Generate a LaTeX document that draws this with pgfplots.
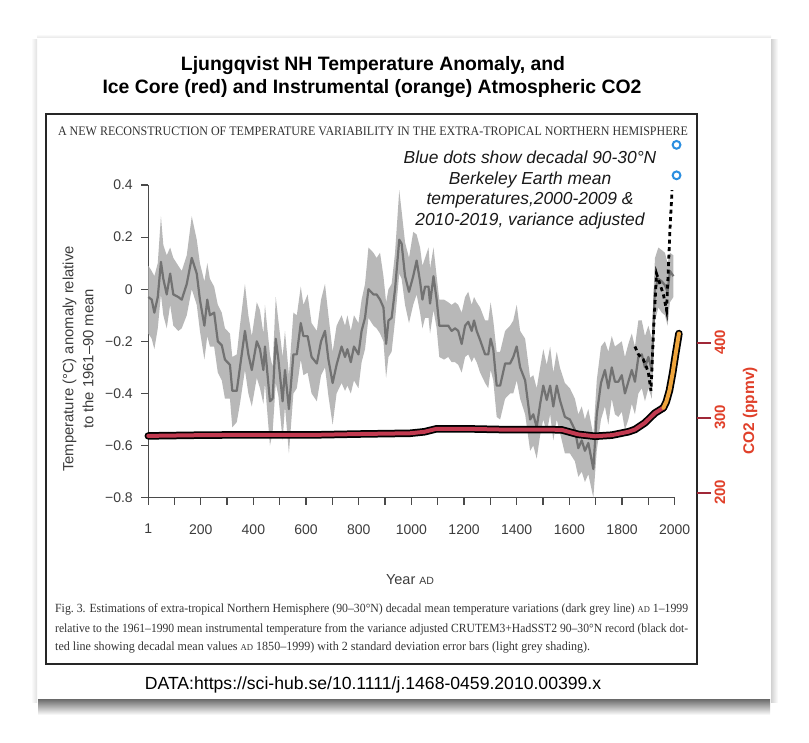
\documentclass[border=0pt]{standalone}
\usepackage{fontspec}
\setmainfont{Liberation Sans}
\newfontfamily\seriffont{Liberation Serif}
\usepackage{graphicx}
\usepackage{pgfplots}
\pgfplotsset{compat=1.18}
\usepackage{pgfplotstable}
\usepgfplotslibrary{fillbetween}

\definecolor{bandgray}{HTML}{B8B8B8}
\definecolor{linegray}{HTML}{727272}
\definecolor{axisgray}{HTML}{4A4A4A}
\definecolor{labelgray}{HTML}{3C3C3C}
\definecolor{co2red}{HTML}{C23A50}
\definecolor{co2orange}{HTML}{EFA53C}
\definecolor{co2label}{HTML}{E0402A}
\definecolor{co2tick}{HTML}{A02838}
\definecolor{dotblue}{HTML}{2A8EE0}
\definecolor{captext}{HTML}{333333}
\newcommand{\fs}[1]{\fontsize{#1}{#1}\selectfont}

\pgfplotstableread{
year mid hi lo
1 -0.03 0.09 -0.17
14 -0.04 0.07 -0.19
24 -0.09 0.05 -0.23
37 -0.03 0.10 -0.15
49 0.105 0.28 -0.02
58 0.04 0.17 -0.10
71 -0.02 0.13 -0.15
84 0.06 0.16 -0.06
96 -0.02 0.12 -0.14
115 -0.03 0.09 -0.16
128 -0.04 0.07 -0.15
147 0.02 0.13 -0.10
166 0.12 0.28 0.00
185 0.06 0.19 -0.06
197 -0.04 0.10 -0.16
214 -0.14 0.03 -0.27
225 -0.04 0.10 -0.18
235 -0.10 0.04 -0.22
251 -0.09 0.01 -0.22
265 -0.20 -0.06 -0.32
280 -0.215 -0.09 -0.35
292 -0.27 -0.15 -0.42
311 -0.29 -0.17 -0.42
320 -0.39 -0.26 -0.53
337 -0.39 -0.25 -0.51
349 -0.30 -0.14 -0.44
368 -0.16 0.02 -0.31
381 -0.25 -0.10 -0.40
394 -0.31 -0.18 -0.45
413 -0.20 -0.05 -0.34
425 -0.23 -0.08 -0.38
438 -0.31 -0.17 -0.44
444 -0.22 -0.06 -0.36
463 -0.43 -0.25 -0.60
473 -0.42 -0.30 -0.55
485 -0.19 -0.03 -0.36
495 -0.27 -0.12 -0.41
511 -0.43 -0.26 -0.58
520 -0.31 -0.16 -0.45
535 -0.46 -0.33 -0.63
552 -0.25 -0.09 -0.40
565 -0.25 -0.10 -0.38
580 -0.13 0.01 -0.27
590 -0.18 -0.06 -0.33
606 -0.18 -0.02 -0.32
621 -0.26 -0.13 -0.40
641 -0.285 -0.16 -0.43
657 -0.20 -0.04 -0.33
672 -0.16 0.02 -0.30
685 -0.27 -0.10 -0.41
701 -0.36 -0.24 -0.52
716 -0.29 -0.14 -0.40
735 -0.22 -0.10 -0.36
748 -0.26 -0.14 -0.39
757 -0.23 -0.10 -0.37
770 -0.28 -0.16 -0.40
782 -0.22 -0.10 -0.35
799 -0.25 -0.13 -0.38
811 -0.16 -0.04 -0.28
824 -0.11 0.02 -0.23
837 0.00 0.16 -0.11
856 -0.02 0.14 -0.14
868 -0.02 0.12 -0.15
881 -0.04 0.14 -0.17
894 -0.07 0.05 -0.20
904 -0.21 -0.05 -0.34
913 -0.12 0.00 -0.26
925 -0.11 0.02 -0.24
938 0.00 0.14 -0.12
954 0.19 0.38 0.06
963 0.175 0.30 0.04
976 0.05 0.18 -0.06
991 -0.01 0.12 -0.13
1007 0.05 0.22 -0.06
1020 0.11 0.21 -0.02
1033 0.03 0.16 -0.09
1042 -0.04 0.09 -0.15
1052 0.01 0.12 -0.11
1065 0.01 0.16 -0.11
1071 -0.055 0.08 -0.17
1084 0.05 0.16 -0.08
1096 -0.04 0.05 -0.15
1106 -0.14 -0.04 -0.26
1124 -0.14 -0.04 -0.27
1140 -0.14 -0.05 -0.26
1153 -0.16 -0.06 -0.28
1166 -0.15 -0.05 -0.28
1178 -0.16 -0.06 -0.29
1191 -0.21 -0.09 -0.32
1204 -0.14 -0.03 -0.26
1216 -0.125 -0.01 -0.25
1229 -0.16 -0.06 -0.28
1238 -0.12 -0.03 -0.26
1248 -0.16 -0.05 -0.28
1261 -0.195 -0.07 -0.32
1280 -0.25 -0.12 -0.36
1292 -0.25 -0.12 -0.38
1301 -0.19 -0.05 -0.31
1311 -0.23 -0.12 -0.35
1324 -0.37 -0.24 -0.49
1337 -0.37 -0.24 -0.50
1356 -0.285 -0.16 -0.42
1375 -0.285 -0.14 -0.40
1387 -0.26 -0.12 -0.40
1400 -0.22 -0.06 -0.35
1413 -0.30 -0.16 -0.42
1432 -0.35 -0.19 -0.48
1451 -0.50 -0.34 -0.62
1463 -0.48 -0.33 -0.60
1476 -0.53 -0.38 -0.65
1489 -0.44 -0.30 -0.56
1501 -0.37 -0.23 -0.50
1514 -0.425 -0.29 -0.55
1527 -0.37 -0.22 -0.48
1539 -0.45 -0.32 -0.58
1552 -0.37 -0.24 -0.50
1564 -0.425 -0.30 -0.55
1583 -0.49 -0.36 -0.63
1602 -0.50 -0.38 -0.63
1621 -0.54 -0.42 -0.66
1634 -0.61 -0.48 -0.72
1647 -0.58 -0.45 -0.70
1659 -0.62 -0.50 -0.74
1672 -0.59 -0.46 -0.71
1691 -0.69 -0.56 -0.80
1704 -0.48 -0.35 -0.62
1720 -0.36 -0.22 -0.50
1735 -0.31 -0.20 -0.45
1748 -0.38 -0.24 -0.52
1761 -0.30 -0.18 -0.42
1773 -0.355 -0.22 -0.48
1786 -0.355 -0.21 -0.49
1799 -0.33 -0.20 -0.47
1811 -0.40 -0.26 -0.54
1824 -0.355 -0.21 -0.50
1837 -0.31 -0.17 -0.44
1849 -0.355 -0.22 -0.48
1862 -0.26 -0.12 -0.40
1875 -0.25 -0.12 -0.38
1887 -0.30 -0.18 -0.43
1900 -0.26 -0.14 -0.38
1913 -0.31 -0.19 -0.42
1925 0.00 0.12 -0.12
1938 0.04 0.16 -0.07
1951 0.03 0.15 -0.09
1963 0.015 0.14 -0.10
1973 -0.01 0.10 -0.14
1982 0.07 0.14 -0.05
1995 0.05 0.13 -0.03
}\temp

\pgfplotstableread{
year t
1849 -0.22
1862 -0.25
1881 -0.27
1893 -0.30
1900 -0.32
1910 -0.39
1920 -0.15
1931 0.06
1944 0.02
1957 -0.02
1969 -0.08
1976 0.08
1982 0.23
1990 0.38
}\instr

\pgfplotstableread{
year ppm
1 276.5
200 277.5
400 278
653 278
800 279
995 280
1050 282
1096 286
1200 286
1337 285
1444 285
1508 285
1571 284.5
1634 278.5
1697 276
1761 277.5
1824 282
1849 285
1887 294
1925 307
1957 314
}\icecore

\pgfplotstableread{
year ppm
1957 314
1968 322
1980 337
1992 360
2003 385
2016 413
}\maunaloa

\begin{document}
\begin{tikzpicture}[x=1pt,y=1pt]
% page extent (no fill, so nothing hides the axis layers)
\path (0,0) rectangle (809,743);
% card shadow, drawn only outside the card
\shade[top color=black!55, bottom color=white] (38,28) rectangle (770,43);
\shade[left color=black!18, right color=white] (771,40) rectangle (778,703);
\shade[left color=white, right color=black!12] (31,40) rectangle (37,703);
\shade[bottom color=black!10, top color=white] (37,705) rectangle (771,709);

% titles
\node[font=\bfseries\fs{19.4}] at (373,677) {Ljungqvist NH Temperature Anomaly, and};
\node[font=\bfseries\fs{19.4}] at (372,654) {Ice Core (red) and Instrumental (orange) Atmospheric CO2};

% figure box
\draw[line width=1.3pt, black!85] (46,79) rectangle (697,629);

% header
\node[text=captext, inner sep=0] at (373,612) {\resizebox{630pt}{\height}{\seriffont\fs{13}A NEW RECONSTRUCTION OF TEMPERATURE VARIABILITY IN THE EXTRA-TROPICAL NORTHERN HEMISPHERE}};

% temperature axis
\begin{axis}[
  at={(148.3pt,245.3pt)}, anchor=south west,
  scale only axis, width=526.4pt, height=312.7pt,
  xmin=1, xmax=2000, ymin=-0.8, ymax=0.4,
  clip=false,
  axis lines=left,
  axis line style={-, line width=1.1pt, draw=axisgray},
  tick align=outside,
  major tick length=7pt, minor tick length=7pt,
  tick style={line width=1.1pt, draw=axisgray},
  xtick={1,200,400,600,800,1000,1200,1400,1600,1800,2000},
  xticklabels={1,200,400,600,800,1000,1200,1400,1600,1800,2000},
  minor xtick={100,300,500,700,900,1100,1300,1500,1700,1900},
  ytick={-0.8,-0.6,-0.4,-0.2,0,0.2,0.4},
  yticklabels={−0.8,−0.6,−0.4,−0.2,0,0.2,0.4},
  ticklabel style={font=\fs{14}, text=labelgray},
  xticklabel style={yshift=-16pt},
  yticklabel style={xshift=-5pt},
]
\addplot[name path=hi, draw=none, forget plot] table[x=year, y=hi] {\temp};
\addplot[name path=lo, draw=none, forget plot] table[x=year, y=lo] {\temp};
\addplot[fill=bandgray, draw=none] fill between[of=hi and lo];
\addplot[linegray, line width=2.2pt, line join=round] table[x=year, y=mid] {\temp};
\addplot[black, line width=2.8pt, dash pattern=on 4pt off 3.5pt] table[x=year, y=t] {\instr};
\addplot[only marks, mark=o, mark size=3.9pt, mark options={line width=2pt, draw=dotblue}] coordinates {(2007,0.437) (2007,0.554)};
\end{axis}

% CO2 axis
\begin{axis}[
  at={(148.3pt,245.3pt)}, anchor=south west,
  scale only axis, width=548.8pt, height=312.7pt,
  xmin=1, xmax=2085, ymin=194.1, ymax=611.1,
  clip=false,
  axis x line=none,
  axis y line*=right,
  y axis line style={-, draw=black!85, line width=1.3pt},
  ytick={200,300,400},
  yticklabels={200,300,400},
  ytick pos=right,
  tick align=outside, major tick length=14pt,
  ytick style={line width=1.6pt, draw=co2tick},
  yticklabel style={rotate=90, anchor=north, xshift=1pt, font=\bfseries\fs{15}, text=co2label},
]
\addplot[black, line width=7.5pt, line cap=round, line join=round] table[x=year, y=ppm] {\icecore};
\addplot[black, line width=7.5pt, line cap=round, line join=round] table[x=year, y=ppm] {\maunaloa};
\addplot[co2red, line width=4pt, line cap=round, line join=round] table[x=year, y=ppm] {\icecore};
\addplot[co2orange, line width=4pt, line cap=round, line join=round] table[x=year, y=ppm] {\maunaloa};
% right-hand tick marks (outside the figure frame)
\draw[co2tick, line width=1.6pt] (axis cs:2085,200) -- ++(14pt,0pt);
\draw[co2tick, line width=1.6pt] (axis cs:2085,300) -- ++(14pt,0pt);
\draw[co2tick, line width=1.6pt] (axis cs:2085,400) -- ++(14pt,0pt);
\end{axis}

\node[rotate=90, font=\bfseries\fs{15.5}, text=co2label] at (750,332) {CO2 (ppmv)};

% annotation
\node[font=\itshape\fontsize{17.4}{20.7}\selectfont, align=center, text=black!90] at (530,553) {Blue dots show decadal 90-30°N\\Berkeley Earth mean\\temperatures,2000-2009 \&\\2010-2019, variance adjusted};

% axis labels
\node[rotate=90, align=center, font=\fontsize{14.8}{20}\selectfont, text=labelgray] at (78,384) {Temperature (°C) anomaly relative\\to the 1961–90 mean};
\node[font=\fs{14.5}, text=labelgray] at (410,163) {Year {\fs{10.5}AD}};

% caption
\node[anchor=west, text=captext, inner sep=0] at (55,134) {\resizebox{633pt}{\height}{\seriffont\fs{12.5}Fig.~3. Estimations of extra-tropical Northern Hemisphere (90–30°N) decadal mean temperature variations (dark grey line) {\fs{9}AD} 1–1999}};
\node[anchor=west, text=captext, inner sep=0] at (55,114) {\resizebox{633pt}{\height}{\seriffont\fs{12.5}relative to the 1961–1990 mean instrumental temperature from the variance adjusted CRUTEM3+HadSST2 90–30°N record (black dot-}};
\node[anchor=west, text=captext, inner sep=0] at (55,95) {\resizebox{535pt}{\height}{\seriffont\fs{12.5}ted line showing decadal mean values {\fs{9}AD} 1850–1999) with 2 standard deviation error bars (light grey shading).}};

% data source
\node[font=\fs{17.6}] at (373,58) {DATA:https://sci-hub.se/10.1111/j.1468-0459.2010.00399.x};
\end{tikzpicture}
\end{document}
